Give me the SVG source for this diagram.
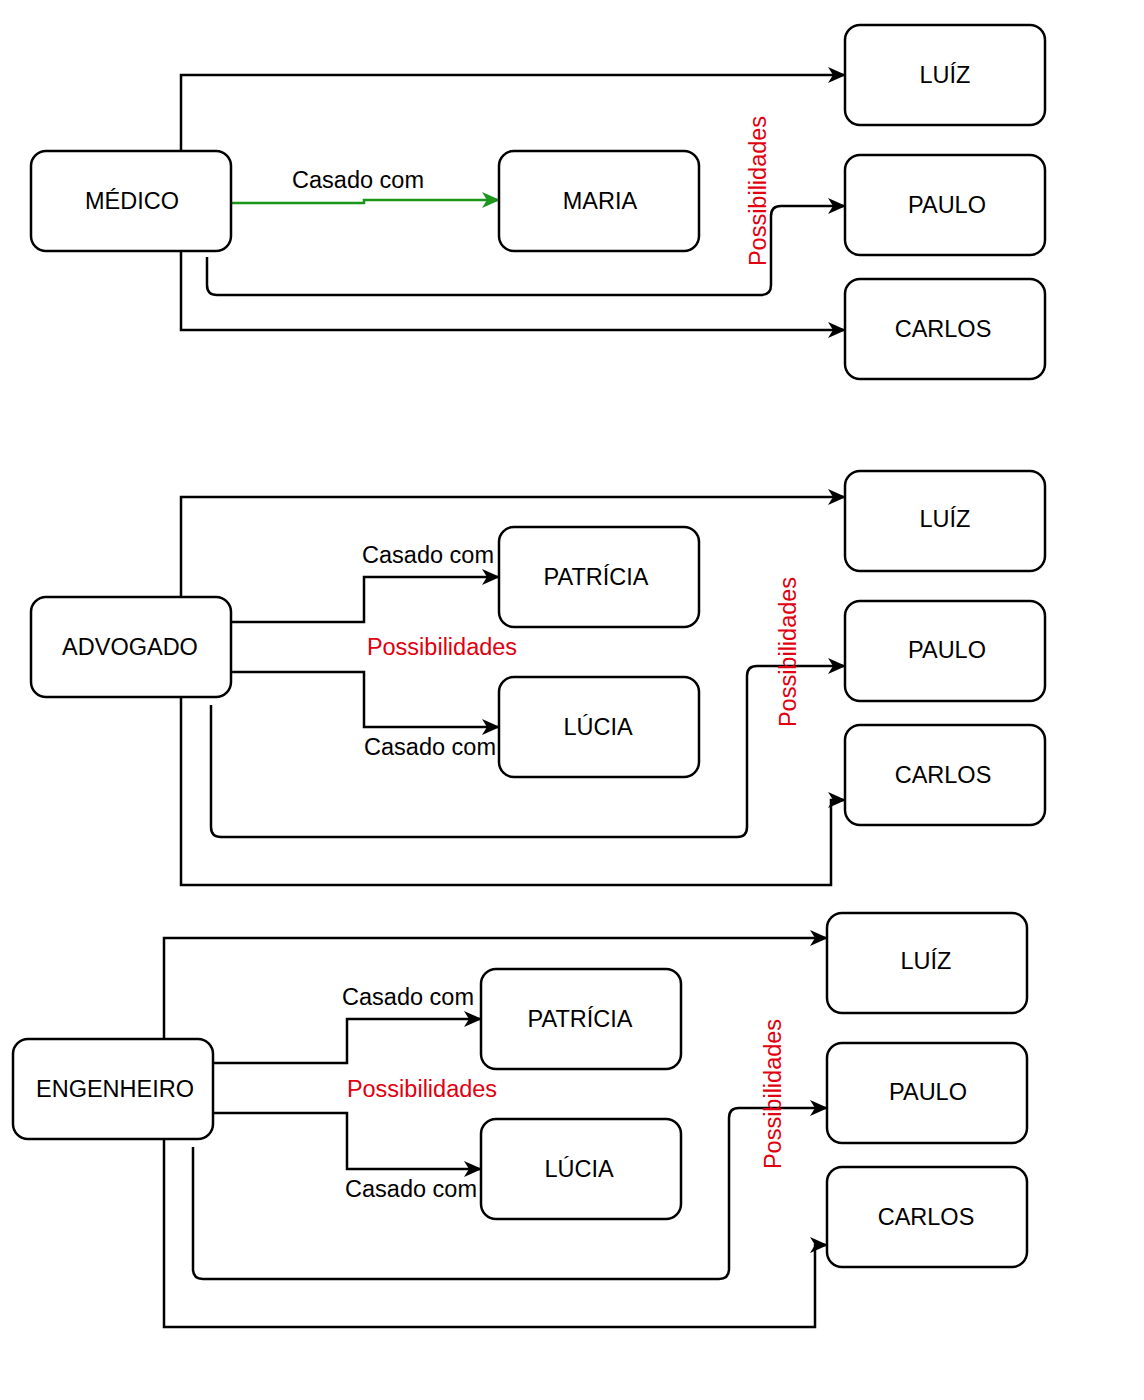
<svg xmlns="http://www.w3.org/2000/svg" width="1144" height="1400" viewBox="0 0 1144 1400">
<style>
.node rect{fill:#ffffff;stroke:#000000;stroke-width:2.5}
.node text{font-family:"Liberation Sans",Arial,sans-serif;font-size:23.5px;fill:#000000;text-anchor:middle}
.edge{fill:none;stroke:#000000;stroke-width:2.5;marker-end:url(#arr)}
.green{fill:none;stroke:#1a961a;stroke-width:2.5;marker-end:url(#arrg)}
.lbl{font-family:"Liberation Sans",Arial,sans-serif;font-size:23.5px;fill:#000000;text-anchor:middle}
.red{font-family:"Liberation Sans",Arial,sans-serif;font-size:23.5px;fill:#e0000f;text-anchor:middle}
</style>
<defs>
<marker id="arr" markerUnits="userSpaceOnUse" markerWidth="18" markerHeight="16" viewBox="0 0 18 16" refX="17" refY="8" orient="auto">
<path d="M0,0 L18,8 L0,16 L5,8 Z" fill="#000000"/>
</marker>
<marker id="arrg" markerUnits="userSpaceOnUse" markerWidth="18" markerHeight="16" viewBox="0 0 18 16" refX="17" refY="8" orient="auto">
<path d="M0,0 L18,8 L0,16 L5,8 Z" fill="#1a961a"/>
</marker>
</defs>
<rect width="1144" height="1400" fill="#ffffff"/>

<g id="connectors">
<!-- Section 1 -->
<path class="edge" d="M181,151 V75 H845"/>
<path class="edge" d="M181,251 V330 H845"/>
<path class="edge" d="M207,257 V285 Q207,295 217,295 H761 Q771,295 771,285 V216 Q771,206 781,206 H845"/>
<path class="green" d="M231,203 H364 V200 H499"/>
<!-- Section 2 -->
<path class="edge" d="M181,597 V497 H845"/>
<path class="edge" d="M181,697 V885 H831 V800 H845"/>
<path class="edge" d="M231,622 H364 V577 H499"/>
<path class="edge" d="M231,672 H364 V727 H499"/>
<path class="edge" d="M211,705 V827 Q211,837 221,837 H737 Q747,837 747,827 V676 Q747,666 757,666 H845"/>
<!-- Section 3 -->
<path class="edge" d="M164,1039 V938 H827"/>
<path class="edge" d="M164,1139 V1327 H815 V1245 H827"/>
<path class="edge" d="M213,1063 H347 V1019 H481"/>
<path class="edge" d="M213,1113 H347 V1169 H481"/>
<path class="edge" d="M193,1147 V1269 Q193,1279 203,1279 H719 Q729,1279 729,1269 V1118 Q729,1108 739,1108 H827"/>
</g>

<g id="labels">
<text class="lbl" x="358" y="188">Casado com</text>
<text class="red" transform="translate(766,191) rotate(-90)">Possibilidades</text>
<text class="lbl" x="428" y="563">Casado com</text>
<text class="red" x="442" y="655">Possibilidades</text>
<text class="lbl" x="430" y="755">Casado com</text>
<text class="red" transform="translate(796,652) rotate(-90)">Possibilidades</text>
<text class="lbl" x="408" y="1005">Casado com</text>
<text class="red" x="422" y="1097">Possibilidades</text>
<text class="lbl" x="411" y="1197">Casado com</text>
<text class="red" transform="translate(781,1094) rotate(-90)">Possibilidades</text>
</g>

<!-- Section 1 nodes -->
<g id="medico" class="node"><rect x="31" y="151" width="200" height="100" rx="15"/><text x="132" y="209">MÉDICO</text></g>
<g id="maria" class="node"><rect x="499" y="151" width="200" height="100" rx="15"/><text x="600" y="209">MARIA</text></g>
<g id="luiz1" class="node"><rect x="845" y="25" width="200" height="100" rx="15"/><text x="945" y="83">LUÍZ</text></g>
<g id="paulo1" class="node"><rect x="845" y="155" width="200" height="100" rx="15"/><text x="947" y="213">PAULO</text></g>
<g id="carlos1" class="node"><rect x="845" y="279" width="200" height="100" rx="15"/><text x="943" y="337">CARLOS</text></g>

<!-- Section 2 nodes -->
<g id="advogado" class="node"><rect x="31" y="597" width="200" height="100" rx="15"/><text x="130" y="655">ADVOGADO</text></g>
<g id="patricia2" class="node"><rect x="499" y="527" width="200" height="100" rx="15"/><text x="596" y="585">PATRÍCIA</text></g>
<g id="lucia2" class="node"><rect x="499" y="677" width="200" height="100" rx="15"/><text x="598" y="735">LÚCIA</text></g>
<g id="luiz2" class="node"><rect x="845" y="471" width="200" height="100" rx="15"/><text x="945" y="527">LUÍZ</text></g>
<g id="paulo2" class="node"><rect x="845" y="601" width="200" height="100" rx="15"/><text x="947" y="658">PAULO</text></g>
<g id="carlos2" class="node"><rect x="845" y="725" width="200" height="100" rx="15"/><text x="943" y="783">CARLOS</text></g>

<!-- Section 3 nodes -->
<g id="engenheiro" class="node"><rect x="13" y="1039" width="200" height="100" rx="15"/><text x="115" y="1097">ENGENHEIRO</text></g>
<g id="patricia3" class="node"><rect x="481" y="969" width="200" height="100" rx="15"/><text x="580" y="1027">PATRÍCIA</text></g>
<g id="lucia3" class="node"><rect x="481" y="1119" width="200" height="100" rx="15"/><text x="579" y="1177">LÚCIA</text></g>
<g id="luiz3" class="node"><rect x="827" y="913" width="200" height="100" rx="15"/><text x="926" y="969">LUÍZ</text></g>
<g id="paulo3" class="node"><rect x="827" y="1043" width="200" height="100" rx="15"/><text x="928" y="1100">PAULO</text></g>
<g id="carlos3" class="node"><rect x="827" y="1167" width="200" height="100" rx="15"/><text x="926" y="1225">CARLOS</text></g>
</svg>
